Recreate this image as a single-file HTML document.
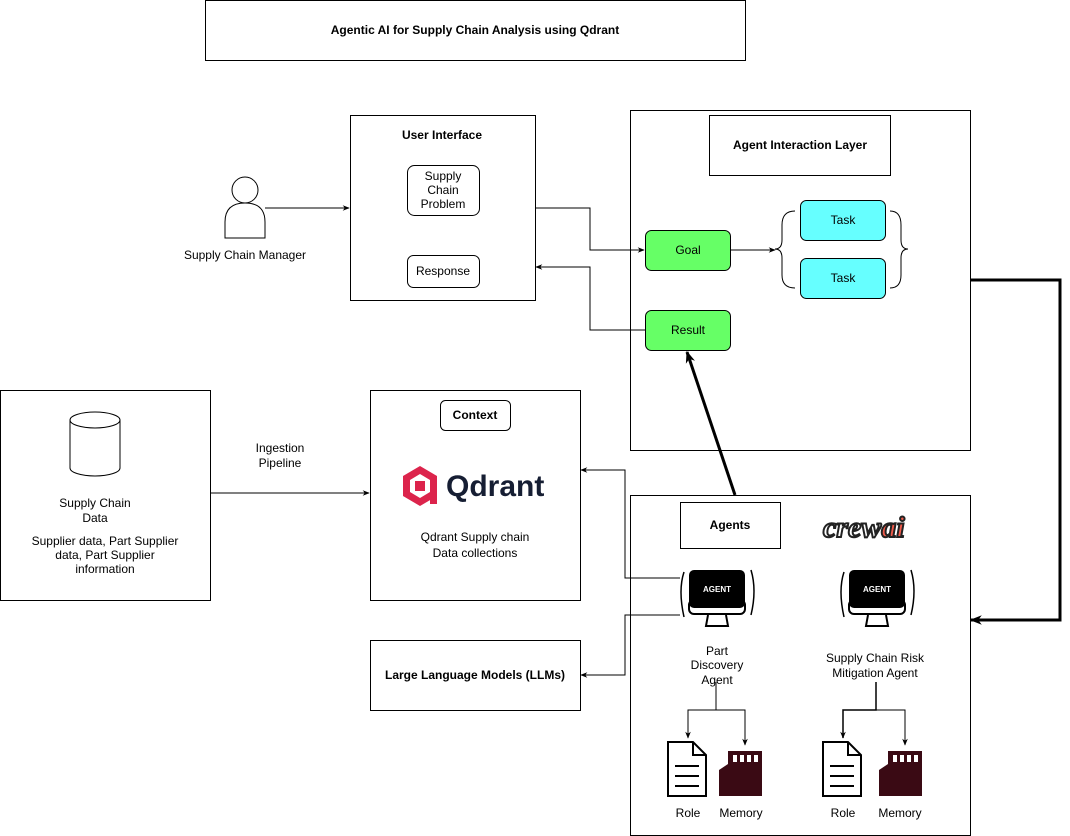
<!DOCTYPE html>
<html><head><meta charset="utf-8"><style>
html,body{margin:0;padding:0;background:#fff}
svg{display:block;font-family:"Liberation Sans",Arial,sans-serif}
</style></head><body>
<svg width="1070" height="836" viewBox="0 0 1070 836" xmlns="http://www.w3.org/2000/svg">
<defs>
<marker id="a" viewBox="0 0 10 10" refX="9" refY="5" markerWidth="7" markerHeight="7" orient="auto-start-reverse" markerUnits="userSpaceOnUse"><path d="M0,1 L10,5 L0,9 L3,5z" fill="#000"/></marker>
<marker id="b" viewBox="0 0 10 10" refX="9" refY="5" markerWidth="12" markerHeight="12" orient="auto" markerUnits="userSpaceOnUse"><path d="M0,1 L10,5 L0,9 L3,5z" fill="#000"/></marker>
</defs>
<g fill="none" stroke="#000" stroke-width="1">
<rect x="205.5" y="0.5" width="540" height="60"/>
<rect x="350.5" y="115.5" width="185" height="185"/>
<rect x="407.5" y="165.5" width="72" height="50" rx="7"/>
<rect x="407.5" y="255.5" width="72" height="32" rx="6"/>
<rect x="630.5" y="110.5" width="340" height="340"/>
<rect x="709.5" y="115.5" width="181" height="60"/>
<rect x="630.5" y="495.5" width="340" height="340"/>
<rect x="680.5" y="502.5" width="100" height="46"/>
<rect x="0.5" y="390.5" width="210" height="210"/>
<rect x="370.5" y="390.5" width="210" height="210"/>
<rect x="440.5" y="400.5" width="70" height="30" rx="5"/>
<rect x="370.5" y="640.5" width="210" height="70"/>
</g>
<rect x="645.5" y="230.5" width="85" height="40" rx="6" fill="#66ff66" stroke="#000"/>
<rect x="645.5" y="310.5" width="85" height="40" rx="6" fill="#66ff66" stroke="#000"/>
<rect x="800.5" y="200.5" width="85" height="40" rx="6" fill="#66ffff" stroke="#000"/>
<rect x="800.5" y="258.5" width="85" height="40" rx="6" fill="#66ffff" stroke="#000"/>
<path d="M795,211 Q782,211 782,225 L782,240 Q782,249 775,249 Q782,249 782,258 L782,275 Q782,288 795,288" fill="none" stroke="#000"/>
<path d="M890,211 Q901,211 901,225 L901,240 Q901,249 908,249 Q901,249 901,258 L901,275 Q901,288 890,288" fill="none" stroke="#000"/>
<circle cx="245" cy="190" r="13" fill="#fff" stroke="#000"/>
<path d="M225,238 L225,222 Q225,203 245,203 Q265,203 265,222 L265,238 Z" fill="#fff" stroke="#000"/>
<path d="M70,420 L70,468 A25,8 0 0 0 120,468 L120,420" fill="#fff" stroke="#000"/>
<ellipse cx="95" cy="420" rx="25" ry="8" fill="#fff" stroke="#000"/>
<g fill="none" stroke="#000">
<path d="M265,208 L349,208" marker-end="url(#a)"/>
<path d="M535,208 L590,208 L590,250 L644,250" marker-end="url(#a)"/>
<path d="M645,330 L590,330 L590,267 L536,267" marker-end="url(#a)"/>
<path d="M730,250 L775,250" marker-end="url(#a)"/>
<path d="M210,493 L369,493" marker-end="url(#a)"/>
<path d="M680,578 L625,578 L625,470 L581,470" marker-end="url(#a)"/>
<path d="M680,615 L625,615 L625,675 L581,675" marker-end="url(#a)"/>
<path d="M716,682 L716,710 L688,710 L688,738" marker-end="url(#a)"/>
<path d="M716,710 L745,710 L745,745" marker-end="url(#a)"/>
<path d="M876,682 L876,710 L843,710 L843,738" marker-end="url(#a)" stroke-width="1.5"/>
<path d="M876,710 L905,710 L905,745" marker-end="url(#a)"/>
<path d="M970,280 L1060,280 L1060,620 L971,620" stroke-width="3" marker-end="url(#b)"/>
<path d="M735,495 L687,352" stroke-width="3" marker-end="url(#b)"/>
</g>
<g id="mon">
<rect x="689" y="600" width="56" height="14" rx="5" fill="#fff" stroke="#000" stroke-width="2"/>
<rect x="689" y="570" width="56" height="38" rx="5" fill="#000"/>
<path d="M708,615 L706,626 L728,626 L726,615" fill="none" stroke="#000" stroke-width="2"/>
<text x="717" y="592" font-size="8" font-weight="bold" fill="#fff" text-anchor="middle">AGENT</text>
<path d="M684,572 Q678,590 684,617" fill="none" stroke="#000" stroke-width="1.5"/>
<path d="M751,570 Q757,590 751,615" fill="none" stroke="#000" stroke-width="1.5"/>
</g>
<use href="#mon" x="160"/>
<g id="doc" fill="none" stroke="#000" stroke-width="2">
<path d="M668,742 L693,742 L706,755 L706,796 L668,796 Z"/>
<path d="M693,742 L693,755 L706,755"/>
<path d="M675,766 L699,766 M675,776 L699,776 M675,786 L699,786"/>
</g>
<use href="#doc" x="155"/>
<g id="mem" fill="#3a0a14">
<path d="M728,751 L762,751 L762,796 L719,796 L719,770 L728,764 Z"/>
<rect x="733" y="755" width="4" height="7" fill="#fff"/>
<rect x="740" y="755" width="4" height="7" fill="#fff"/>
<rect x="747" y="755" width="4" height="7" fill="#fff"/>
<rect x="754" y="755" width="4" height="7" fill="#fff"/>
</g>
<use href="#mem" x="160"/>
<path d="M420,466 L437,476 L437,496 L420,506 L403,496 L403,476 Z" fill="#dc244c"/>
<path d="M420,474 L430,480 L430,492 L420,498 L410,492 L410,480 Z" fill="#fff"/>
<rect x="415" y="481" width="10" height="10" fill="#dc244c"/>
<rect x="430" y="488" width="7" height="16" fill="#dc244c"/>
<text x="446" y="496" font-size="30" font-weight="bold" fill="#161e33">Qdrant</text>
<text x="823" y="537" font-size="30" font-style="italic" font-weight="bold" fill="#fff" stroke="#222" stroke-width="2" font-family="Liberation Serif,serif">crew<tspan fill="#f05a4a">ai</tspan></text>
<g font-size="12" text-anchor="middle" fill="#000">
<text x="475" y="34" font-weight="bold">Agentic AI for Supply Chain Analysis using Qdrant</text>
<text x="442" y="139" font-weight="bold">User Interface</text>
<text x="443" y="180">Supply</text><text x="443" y="194">Chain</text><text x="443" y="208">Problem</text>
<text x="443" y="275">Response</text>
<text x="245" y="259">Supply Chain Manager</text>
<text x="800" y="149" font-weight="bold">Agent Interaction Layer</text>
<text x="688" y="254">Goal</text>
<text x="688" y="334">Result</text>
<text x="843" y="224">Task</text>
<text x="843" y="282">Task</text>
<text x="730" y="529" font-weight="bold">Agents</text>
<text x="717" y="655">Part</text><text x="717" y="669">Discovery</text><text x="717" y="684">Agent</text>
<text x="875" y="662">Supply Chain Risk</text><text x="875" y="677">Mitigation Agent</text>
<text x="688" y="817">Role</text><text x="741" y="817">Memory</text>
<text x="843" y="817">Role</text><text x="900" y="817">Memory</text>
<text x="95" y="507">Supply Chain</text><text x="95" y="522">Data</text>
<text x="105" y="545">Supplier data, Part Supplier</text><text x="105" y="559">data, Part Supplier</text><text x="105" y="573">information</text>
<text x="280" y="452">Ingestion</text><text x="280" y="467">Pipeline</text>
<text x="475" y="419" font-weight="bold">Context</text>
<text x="475" y="541">Qdrant Supply chain</text><text x="475" y="557">Data collections</text>
<text x="475" y="679" font-weight="bold">Large Language Models (LLMs)</text>
</g>
</svg>
</body></html>
